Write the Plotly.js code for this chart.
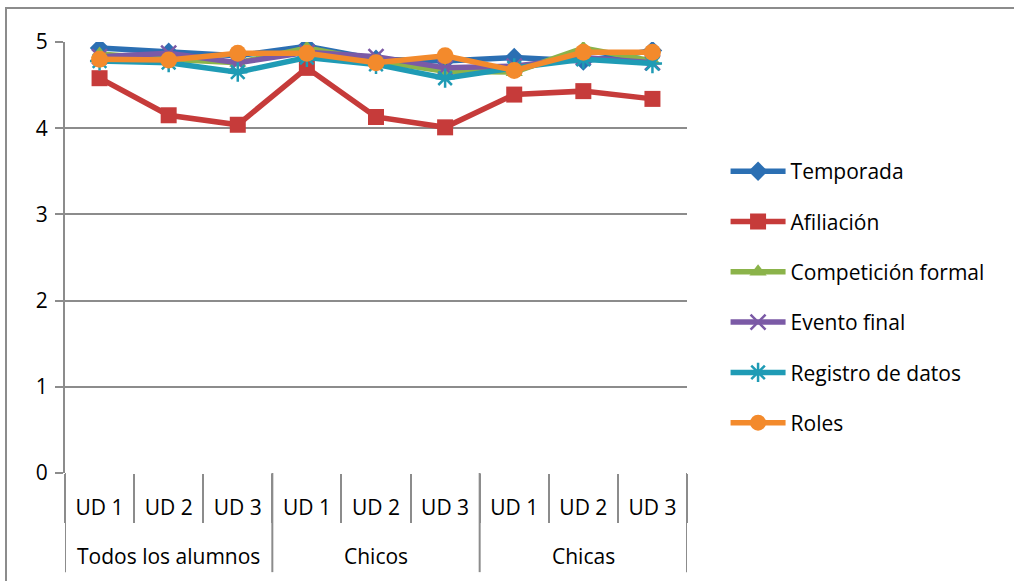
<!DOCTYPE html>
<html>
<head>
<meta charset="utf-8">
<script src="https://cdn.plot.ly/plotly-3.0.1.min.js"></script>
<style>
html,body{margin:0;padding:0;background:#fff;}
#chart{width:1014px;height:581px;position:relative;}
#frame{position:absolute;left:5px;top:7px;width:1020px;height:590px;border:2px solid #8c8c8c;pointer-events:none;}
</style>
</head>
<body>
<div id="chart"></div>
<div id="frame"></div>
<script>
const groups = ["Todos los alumnos","Todos los alumnos","Todos los alumnos","Chicos","Chicos","Chicos","Chicas","Chicas","Chicas"];
const units = ["UD 1","UD 2","UD 3","UD 1","UD 2","UD 3","UD 1","UD 2","UD 3"];

const temporada   = [4.93, 4.88, 4.84, 4.95, 4.80, 4.78, 4.82, 4.78, 4.90];
const afiliacion  = [4.58, 4.15, 4.04, 4.70, 4.13, 4.01, 4.39, 4.43, 4.34];
const competicion = [4.86, 4.80, 4.76, 4.93, 4.78, 4.66, 4.65, 4.93, 4.78];
const evento      = [4.83, 4.87, 4.76, 4.88, 4.83, 4.70, 4.72, 4.82, 4.76];
const registro    = [4.78, 4.76, 4.65, 4.82, 4.74, 4.58, 4.70, 4.80, 4.75];
const roles       = [4.80, 4.79, 4.87, 4.87, 4.76, 4.84, 4.67, 4.88, 4.88];

const yTicks = [0,1,2,3,4,5];

const xi = units.map((_, i) => i);
const GRAY = '#8c8c8c';
const FONT = '"Open Sans", Lato, sans-serif';
const TXT = '#000';

function tr(name, y, color, symbol, size, lw){
  return {
    type:'scatter', mode:'lines+markers', name:name, x:xi, y:y,
    legendgroup:name,
    line:{color:color, width:5.5},
    marker:{symbol:symbol, size:size, color:color, line:{color:color, width:lw||0}}
  };
}
const data = [
  tr('Temporada', temporada, '#2b6fb3', 'diamond', 15),
  tr('Afiliación', afiliacion, '#c63b3a', 'square', 16),
  tr('Competición formal', competicion, '#8bb34a', 'triangle-up', 15),
  tr('Evento final', evento, '#7b5aa6', 'x-thin-open', 15, 2.5),
  tr('Registro de datos', registro, '#1f9bb5', 'asterisk-open', 16, 2.5),
  tr('Roles', roles, '#f38a2c', 'circle', 17)
];

// group boundaries and group centres derived from the groups array
const bounds = [-0.5];
const annots = [];
let start = 0;
for (let i = 1; i <= groups.length; i++) {
  if (i === groups.length || groups[i] !== groups[start]) {
    bounds.push(i - 0.5);
    annots.push({text: groups[start], x: (start + i - 1) / 2, xref:'x', y:-0.193, yref:'paper',
                 showarrow:false, xanchor:'center', yanchor:'middle',
                 font:{family:FONT, size:21, color:TXT}});
    start = i;
  }
}
const shapes = bounds.map(b => ({type:'line', xref:'x', yref:'paper', x0:b, x1:b, y0:0, y1:-0.23,
                                 line:{color:GRAY, width:2}}));

const layout = {
  width:1014, height:581,
  margin:{l:65, r:327, t:42, b:108},
  paper_bgcolor:'#fff', plot_bgcolor:'#fff',
  font:{family:FONT, size:21, color:TXT},
  showlegend:true,
  legend:{x:1.062, y:0.747, yanchor:'top', xanchor:'left', tracegroupgap:20,
          font:{size:21, color:TXT, family:FONT}, itemwidth:55, bgcolor:'rgba(0,0,0,0)'},
  annotations: annots,
  shapes: shapes,
  xaxis:{range:[-0.5, units.length - 0.5], tickvals:xi, ticktext:units, showgrid:false,
         showline:false, ticks:'', ticklabelstandoff:20,
         minor:{tick0:0.5, dtick:1, ticks:'outside', ticklen:49, tickcolor:GRAY, tickwidth:2, showgrid:false},
         tickfont:{size:21, color:TXT, family:FONT}, zeroline:false, fixedrange:true},
  yaxis:{range:[0,5], tickvals:yTicks, ticktext:yTicks.map(String), showgrid:true, gridcolor:GRAY, gridwidth:2,
         showline:true, linecolor:GRAY, linewidth:2, ticks:'outside', ticklen:8, tickcolor:GRAY, tickwidth:2,
         zeroline:false, ticklabelstandoff:3, tickfont:{size:21, color:TXT, family:FONT}, fixedrange:true}
};
Plotly.newPlot('chart', data, layout, {displayModeBar:false, staticPlot:true});
</script>
</body>
</html>
